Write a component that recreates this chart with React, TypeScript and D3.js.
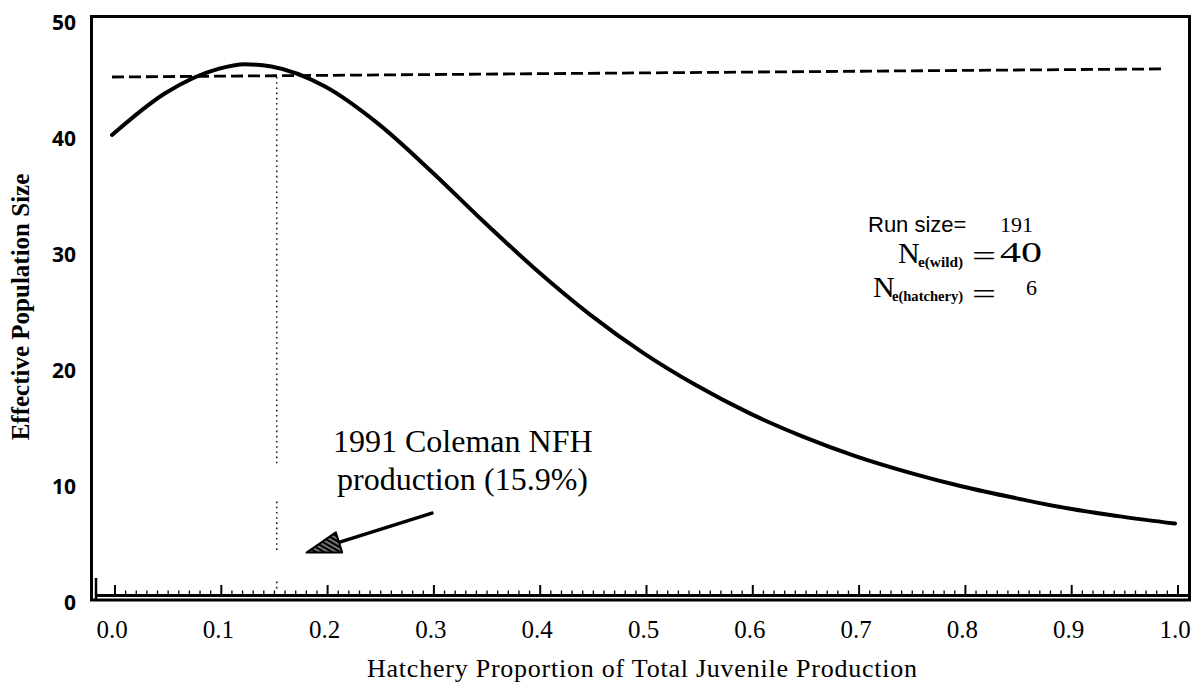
import React from "react";
import * as d3 from "d3";

// Hatchery proportion of total juvenile production (x) and effective population size (y)
const proportions = [0, 0.05, 0.1, 0.125, 0.15, 0.2, 0.25, 0.3, 0.35, 0.4, 0.45, 0.5, 0.55, 0.6, 0.65, 0.7, 0.75, 0.8, 0.85, 0.9, 0.95, 1.0];
const effectiveSize = [40, 43.6, 45.7, 46.1, 45.9, 44.2, 41.0, 36.9, 32.5, 28.3, 24.5, 21.2, 18.4, 16.0, 14.0, 12.3, 10.9, 9.7, 8.7, 7.8, 7.1, 6.5];

// dashed reference line
const referenceP = [0, 0.99];
const referenceNe = [45.0, 45.7];

// 1991 Coleman NFH production marker (dotted vertical line)
const colemanP = 0.155;
const colemanSegments = [[45, 11.7], [8.4, 4.2], [1.5, 0.8]];

// arrow (tail -> tip) in data units
const arrowTail = [0.301, 7.4];
const arrowTip = [0.183, 4.0];

const xTickValues = [0, 0.1, 0.2, 0.3, 0.4, 0.5, 0.6, 0.7, 0.8, 0.9, 1.0];
const xTickLabels = ["0.0", "0.1", "0.2", "0.3", "0.4", "0.5", "0.6", "0.7", "0.8", "0.9", "1.0"];
const yTickValues = [0, 10, 20, 30, 40, 50];
const yTickLabels = ["0", "10", "20", "30", "40", "50"];

const runSize = 191;
const neWild = 40;
const neHatchery = 6;

const W = 1194;
const H = 686;

export default function App() {
  const x = d3.scaleLinear().domain([0, 1]).range([112, 1175]);
  const y = d3.scaleLinear().domain([0, 50]).range([599, 19]);

  const pts = proportions.map((p, i) => [p, effectiveSize[i]] as [number, number]);
  const line = d3
    .line<[number, number]>()
    .x((d) => x(d[0]))
    .y((d) => y(d[1]))
    .curve(d3.curveMonotoneX);

  const refPts = referenceP.map((p, i) => [p, referenceNe[i]] as [number, number]);
  const refLine = d3
    .line<[number, number]>()
    .x((d) => x(d[0]))
    .y((d) => y(d[1]));

  const minorTicks = d3.range(0, 101).map((i) => i / 100);

  // arrow geometry
  const tx = x(arrowTail[0]);
  const ty = y(arrowTail[1]);
  const hx = x(arrowTip[0]);
  const hy = y(arrowTip[1]);
  const len = Math.hypot(tx - hx, ty - hy);
  const ux = (tx - hx) / len;
  const uy = (ty - hy) / len;
  const headLen = 34;
  const halfW = 10.5;
  const bx = hx + ux * headLen;
  const by = hy + uy * headLen;
  const px = -uy;
  const py = ux;
  const headPts = `${hx},${hy} ${bx + px * halfW},${by + py * halfW} ${bx - px * halfW},${by - py * halfW}`;

  const serif = "'Liberation Serif', 'Times New Roman', serif";
  const sans = "'Liberation Sans', Arial, sans-serif";

  return (
    <svg
      width={W}
      height={H}
      style={{ position: "absolute", left: 0, top: 0, display: "block", background: "#fff" }}
    >
      <defs>
        <pattern id="hatch" width="4" height="4" patternUnits="userSpaceOnUse" patternTransform="rotate(30)">
          <rect width="4" height="4" fill="#000" />
          <line x1="0" y1="2" x2="4" y2="2" stroke="#fff" strokeWidth="0.9" />
        </pattern>
      </defs>

      {/* frame */}
      <rect x={91.5} y={16.5} width={1098} height={583.5} fill="none" stroke="#000" strokeWidth={3} />
      {/* x axis line */}
      <line x1={95} x2={1189} y1={595.5} y2={595.5} stroke="#000" strokeWidth={3} />
      <line x1={96} x2={96} y1={578} y2={599} stroke="#000" strokeWidth={2.5} />

      {/* ticks */}
      {minorTicks.map((p, i) => {
        const major = i % 10 === 0;
        return (
          <line
            key={i}
            x1={x(p) + 3}
            x2={x(p) + 3}
            y1={594}
            y2={major ? 585 : 590.5}
            stroke="#000"
            strokeWidth={major ? 2 : 1.3}
          />
        );
      })}

      {/* x tick labels */}
      {xTickValues.map((v, i) => (
        <text key={i} x={x(v)} y={638} textAnchor="middle" fontFamily={serif} fontSize={25} fill="#000">
          {xTickLabels[i]}
        </text>
      ))}

      {/* y tick labels */}
      {yTickValues.map((v, i) => (
        <text
          key={i}
          x={76}
          y={y(v) + 3}
          textAnchor="end"
          dominantBaseline="central"
          fontFamily="'Open Sans', sans-serif"
          fontWeight={700}
          fontSize={21}
          fill="#000"
        >
          {yTickLabels[i]}
        </text>
      ))}

      {/* axis titles */}
      <text
        transform="translate(29,307) rotate(-90)"
        textAnchor="middle"
        fontFamily={serif}
        fontWeight={700}
        fontSize={25}
        fill="#000"
      >
        Effective Population Size
      </text>
      <text x={642} y={677} textAnchor="middle" fontFamily={serif} fontSize={26} fill="#000" textLength={550} lengthAdjust="spacing">
        Hatchery Proportion of Total Juvenile Production
      </text>

      {/* dashed reference line */}
      <path d={refLine(refPts) || ""} fill="none" stroke="#000" strokeWidth={2.8} strokeDasharray="12 5" />

      {/* dotted vertical line */}
      {colemanSegments.map((s, i) => (
        <line
          key={i}
          x1={x(colemanP)}
          x2={x(colemanP)}
          y1={y(s[0])}
          y2={y(s[1])}
          stroke="#222"
          strokeWidth={1.6}
          strokeDasharray="1.6 3.6"
        />
      ))}

      {/* main curve */}
      <path d={line(pts) || ""} fill="none" stroke="#000" strokeWidth={4} strokeLinecap="round" />

      {/* arrow */}
      <line x1={tx} y1={ty} x2={bx} y2={by} stroke="#000" strokeWidth={3.5} strokeLinecap="round" />
      <polygon points={headPts} fill="url(#hatch)" stroke="#000" strokeWidth={2} strokeLinejoin="round" />

      {/* annotation */}
      <text x={333} y={452} fontFamily={serif} fontSize={32} fill="#000">
        1991 Coleman NFH
      </text>
      <text x={337} y={490} fontFamily={serif} fontSize={32} fill="#000">
        production
      </text>
      <text x={484} y={490} fontFamily={serif} fontSize={32} fill="#000">
        (15.9%)
      </text>

      {/* run size box */}
      <text x={868} y={232} fontFamily={sans} fontSize={22} fill="#000">
        Run size=
      </text>
      <text x={1000} y={232} fontFamily={serif} fontSize={22} fill="#000">
        {runSize}
      </text>

      <text x={898} y={263} fontFamily={serif} fontSize={30} fill="#000">N</text>
      <text x={918} y={267} fontFamily={serif} fontWeight={700} fontSize={14} fill="#000" textLength={45} lengthAdjust="spacingAndGlyphs">
        e(wild)
      </text>
      <text x={972} y={266} fontFamily={serif} fontSize={30} fill="#000" textLength={24} lengthAdjust="spacingAndGlyphs">=</text>
      <text x={1000} y={262} fontFamily={serif} fontSize={30} fill="#000" textLength={42} lengthAdjust="spacingAndGlyphs">
        {neWild}
      </text>

      <text x={873} y={297} fontFamily={serif} fontSize={30} fill="#000">N</text>
      <text x={892} y={301} fontFamily={serif} fontWeight={700} fontSize={14} fill="#000" textLength={71} lengthAdjust="spacingAndGlyphs">
        e(hatchery)
      </text>
      <text x={972} y={304} fontFamily={serif} fontSize={30} fill="#000" textLength={24} lengthAdjust="spacingAndGlyphs">=</text>
      <text x={1026} y={295} fontFamily={serif} fontSize={22} fill="#000">
        {neHatchery}
      </text>
    </svg>
  );
}
